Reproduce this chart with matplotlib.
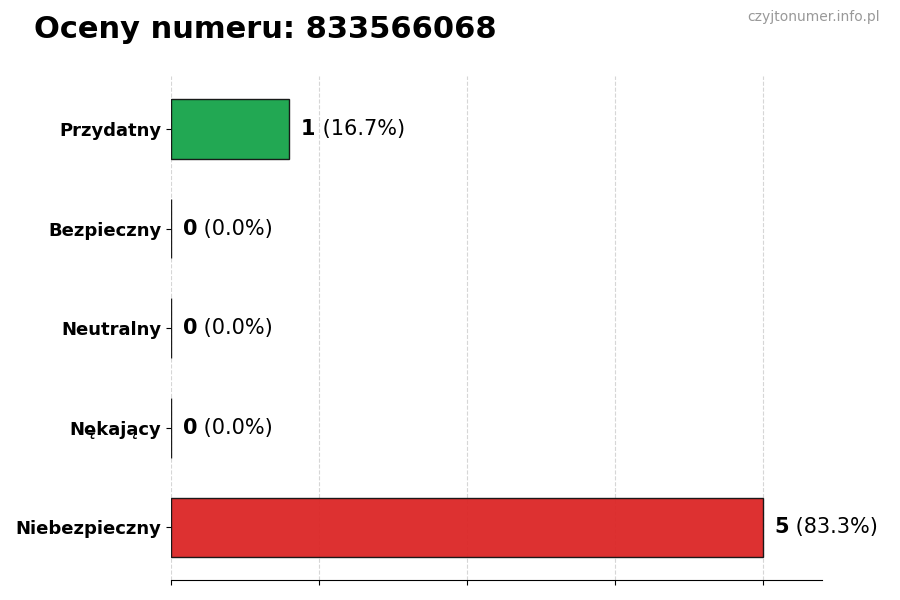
import matplotlib
matplotlib.use("Agg")
import matplotlib.pyplot as plt

categories = ["Przydatny", "Bezpieczny", "Neutralny", "Nękający", "Niebezpieczny"]
counts = [1, 0, 0, 0, 5]
colors = ["#16a34a", "#9ca3af", "#6b7280", "#f97316", "#dc2626"]
number = "833566068"

total = sum(counts)

fig = plt.figure(figsize=(9, 6), dpi=100)
ax = fig.add_axes([0.19, 0.033, 0.723, 0.84])

ypos = list(range(len(categories)))
ax.barh(ypos, counts, height=0.6, color=colors, edgecolor="#111111",
        linewidth=1, alpha=0.95, zorder=2)
ax.invert_yaxis()
ax.set_yticks(ypos)
ax.set_yticklabels(categories, fontsize=13, fontweight="bold")
ax.set_xlim(0, 5.5)
ax.set_xticks([0, 1.25, 2.5, 3.75, 5])
ax.set_xticklabels([])
ax.grid(axis="x", linestyle="--", color="#cccccc", linewidth=0.8, alpha=0.8)
ax.set_axisbelow(True)
for s in ["top", "right", "left"]:
    ax.spines[s].set_visible(False)

for y, c in zip(ypos, counts):
    pct = 100.0 * c / total
    t = ax.text(c + 0.1, y, str(c), fontsize=15, fontweight="bold",
                va="center", ha="left")
    ax.annotate(" (%.1f%%)" % pct, xy=(1, 0.5), xycoords=t, va="center",
                ha="left", fontsize=15)

fig.text(0.038, 0.95, "Oceny numeru: " + number, fontsize=22,
         fontweight="bold", va="center", ha="left")
fig.text(0.978, 0.972, "czyjtonumer.info.pl", fontsize=10, color="#999999",
         ha="right", va="center")

fig.savefig("out.png", dpi=100)
